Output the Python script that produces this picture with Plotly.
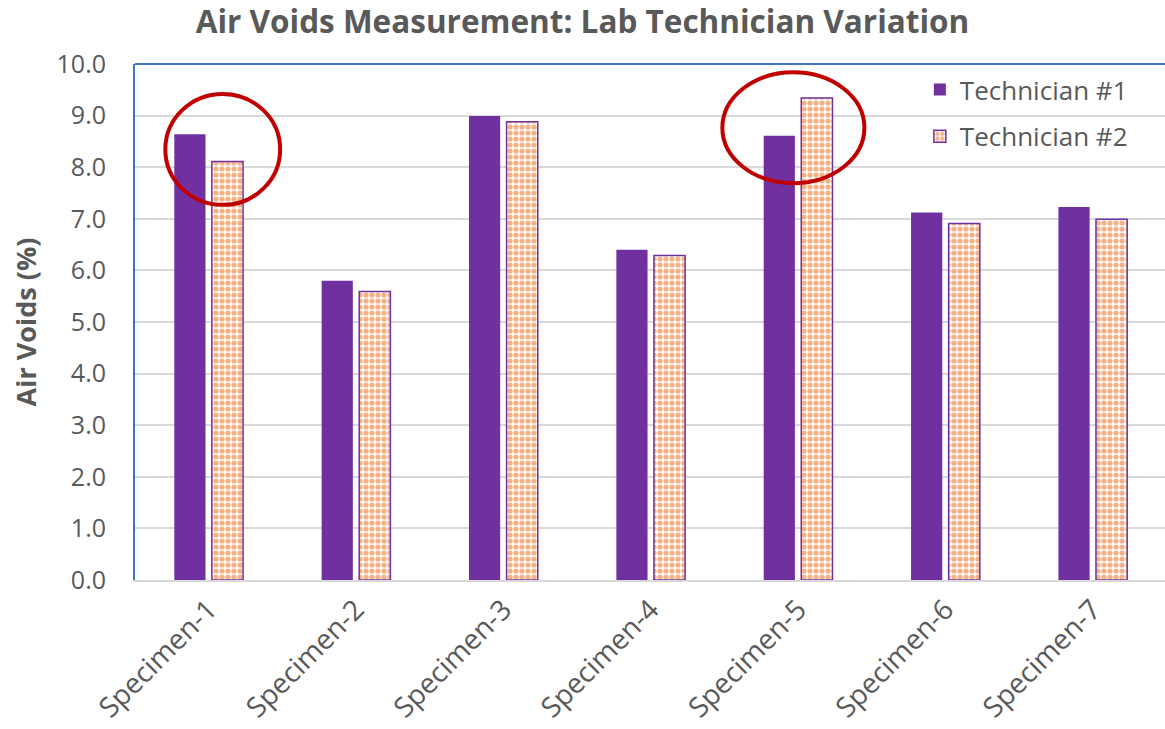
import plotly.graph_objects as go

# Air void measurements (%) for each specimen, by technician
specimens = ["Specimen-1", "Specimen-2", "Specimen-3", "Specimen-4",
             "Specimen-5", "Specimen-6", "Specimen-7"]
technician_1 = [8.64, 5.80, 8.99, 6.40, 8.61, 7.12, 7.23]
technician_2 = [8.11, 5.59, 8.88, 6.29, 9.34, 6.91, 6.99]
y_ticks = [0, 1, 2, 3, 4, 5, 6, 7, 8, 9, 10]

PURPLE = "#7030a0"
ORANGE = "#f4b183"
GRID = "#d9d9d9"
TEXT = "#595959"
BLUE = "#4472c4"
RED = "#c00000"
FONT = "Open Sans"

fig = go.Figure()
fig.add_trace(go.Bar(
    name="Technician #1", x=specimens, y=technician_1,
    marker=dict(color=PURPLE, line=dict(color=PURPLE, width=0)),
    legendgroup="t1",
))
fig.add_trace(go.Bar(
    name="Technician #2", x=specimens, y=technician_2,
    marker=dict(
        color="white",
        line=dict(color=PURPLE, width=1.5),
        pattern=dict(shape=".", fgcolor=ORANGE, bgcolor="white",
                     size=6, solidity=0.6, fillmode="replace"),
    ),
    legendgroup="t2",
))

# highlighted specimen pairs (category index, ellipse extents)
highlights = [
    dict(cat=0, dx0=-0.294, dx1=0.485, y0=7.27, y1=9.42),
    dict(cat=4, dx0=-0.514, dx1=0.45, y0=7.69, y1=9.84),
]
for h in highlights:
    fig.add_shape(type="circle", xref="x", yref="y",
                  x0=h["cat"] + h["dx0"], x1=h["cat"] + h["dx1"],
                  y0=h["y0"], y1=h["y1"],
                  line=dict(color=RED, width=4), layer="above")

# top border of the plot area
fig.add_shape(type="line", xref="paper", yref="paper", x0=0, x1=1, y0=1, y1=1,
              line=dict(color=BLUE, width=2))

fig.update_layout(
    width=1165, height=729,
    margin=dict(l=135, r=0, t=64, b=149),
    paper_bgcolor="white", plot_bgcolor="white",
    barmode="group", bargap=0.49, bargroupgap=0.17,
    font=dict(family=FONT, color=TEXT, size=25),
    title=dict(text="Air Voids Measurement: Lab Technician Variation",
               x=0.5, xref="container", xanchor="center",
               y=0.97, yref="container", yanchor="middle",
               font=dict(family=FONT, size=31.5, color=TEXT, weight="bold")),
    legend=dict(x=0.762, y=0.996, xanchor="left", yanchor="top",
                traceorder="grouped", tracegroupgap=10,
                bgcolor="rgba(0,0,0,0)",
                font=dict(family=FONT, size=26, color=TEXT)),
    showlegend=True,
)

fig.update_xaxes(
    type="category", range=[-0.5, 6.49],
    tickangle=-45, tickfont=dict(family=FONT, size=28, color=TEXT),
    showline=True, linecolor=GRID, linewidth=2,
    showgrid=False, ticks="",
)
fig.update_yaxes(
    range=[0, 10], tickvals=y_ticks, tickformat=".1f",
    tickfont=dict(family=FONT, size=25, color=TEXT),
    showgrid=True, gridcolor=GRID, gridwidth=2,
    showline=True, linecolor=BLUE, linewidth=2,
    zeroline=False, ticks="", ticklabelstandoff=22,
    title=dict(text="Air Voids (%)", standoff=12,
               font=dict(family=FONT, size=27, color=TEXT, weight="bold")),
)

fig.write_html("out.html")
